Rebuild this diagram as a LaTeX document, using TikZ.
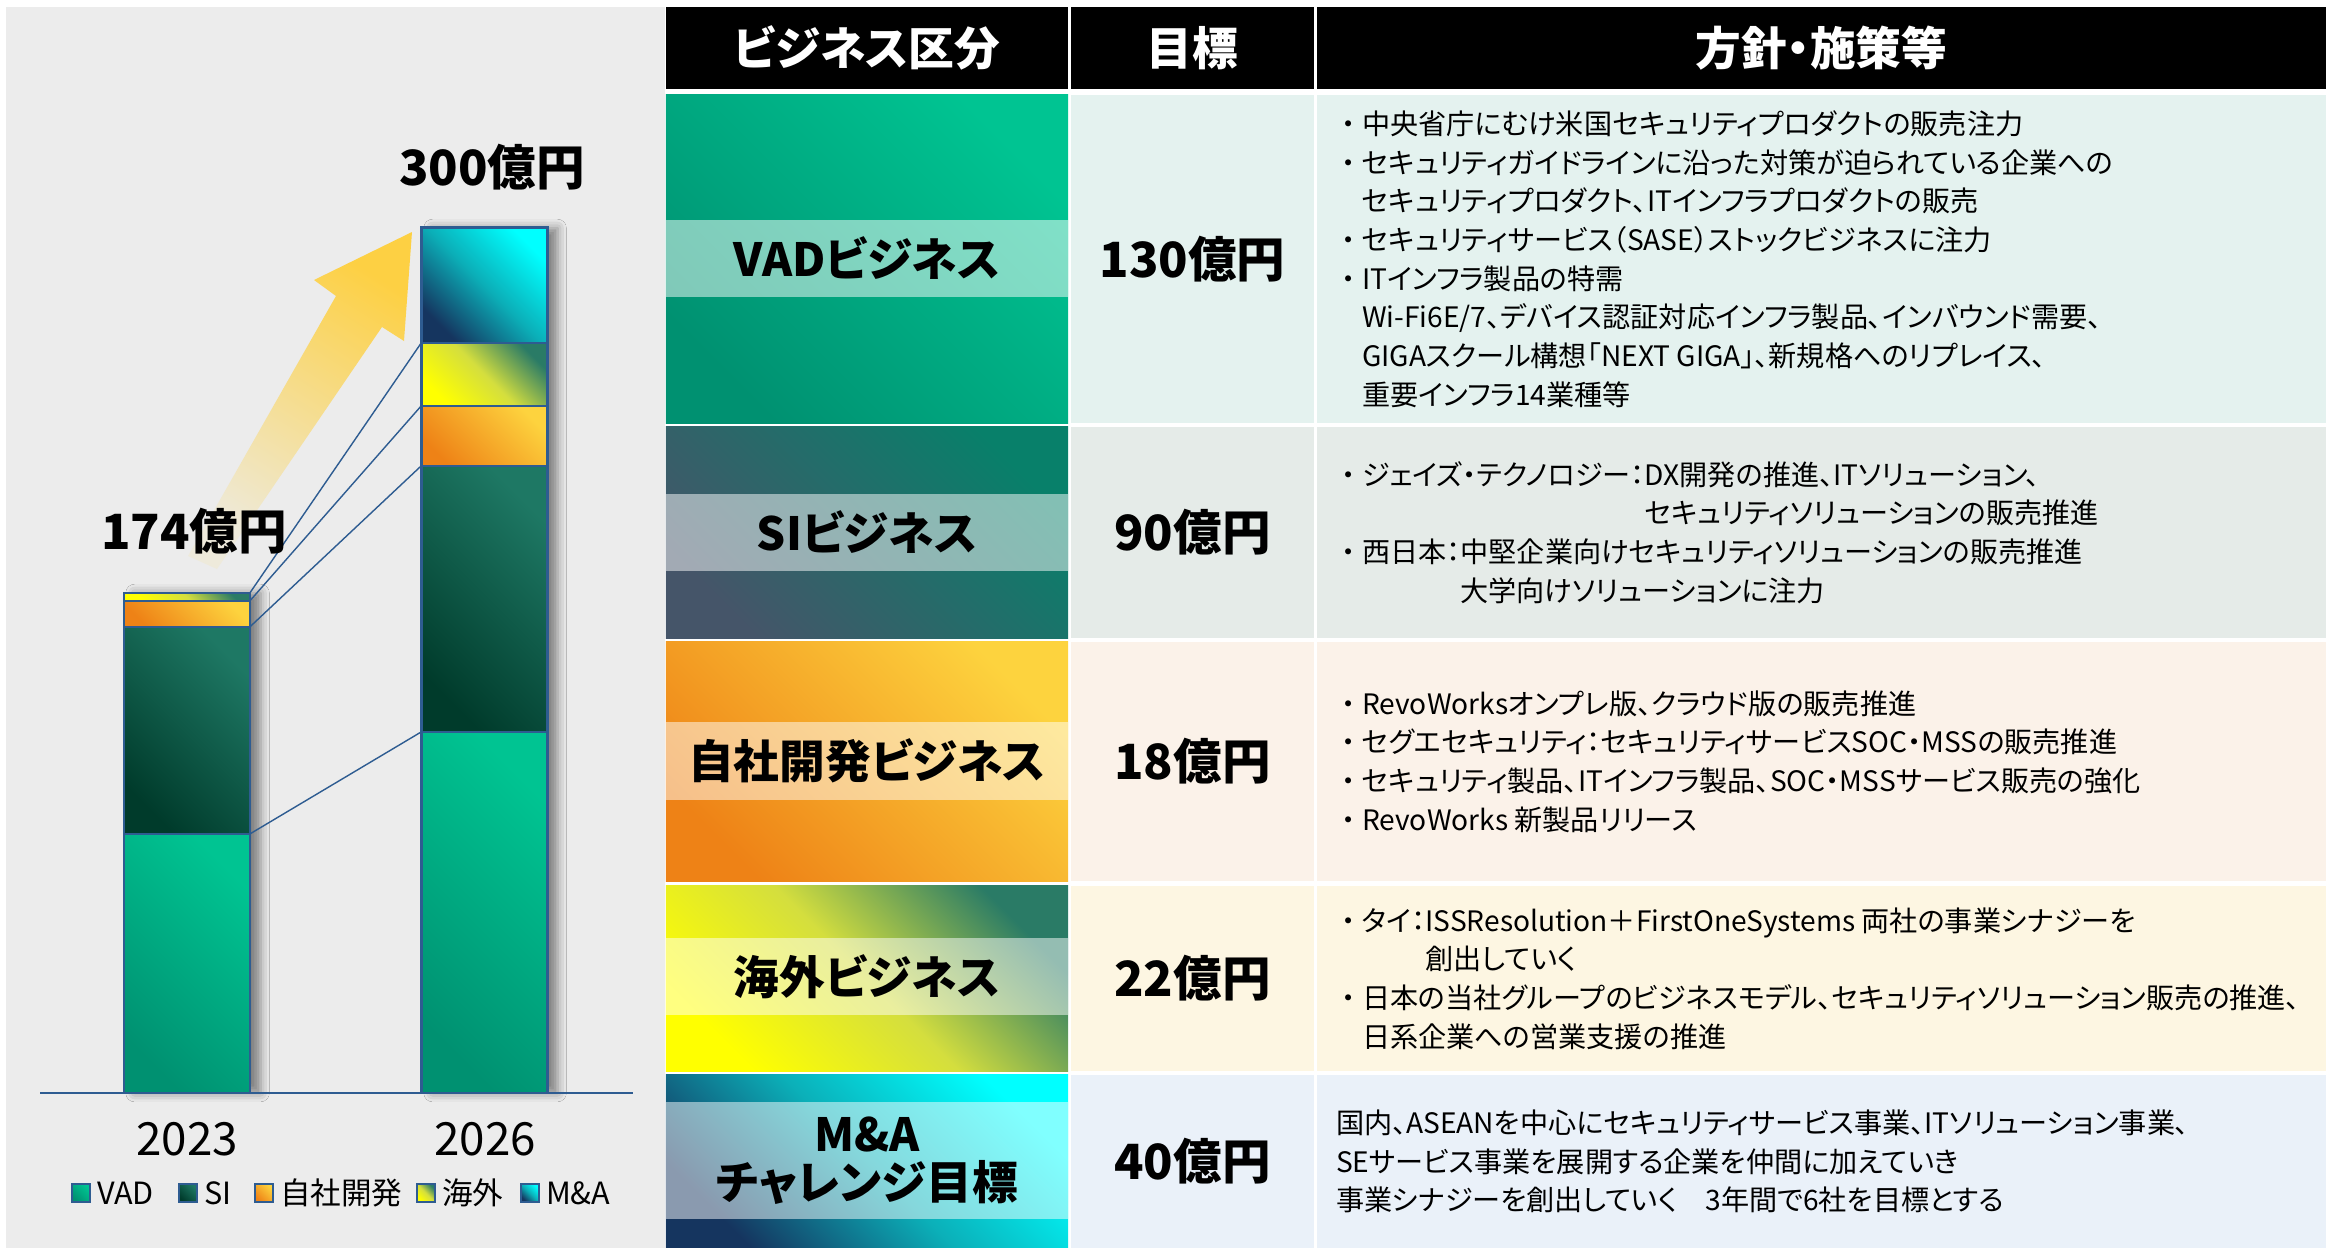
\documentclass[tikz,border=0pt]{standalone}
\usepackage{fontspec}
\setmainfont{Noto Sans CJK JP}[RawFeature={+palt}]
\usetikzlibrary{positioning,shadows.blur}

\definecolor{panel}{HTML}{ECECEC}
\definecolor{edge}{HTML}{2E5C91}
\definecolor{vadA}{HTML}{00C492}
\definecolor{vadB}{HTML}{009171}
\definecolor{siA}{HTML}{1E7864}
\definecolor{siB}{HTML}{003B2B}
\definecolor{jiA}{HTML}{FDD33E}
\definecolor{jiB}{HTML}{EE8216}
\definecolor{kaiA}{HTML}{2A7B66}
\definecolor{kaiM}{HTML}{D4DE3E}
\definecolor{kaiB}{HTML}{FFFF00}
\definecolor{maA}{HTML}{00FFFF}
\definecolor{maM}{HTML}{0BAFB8}
\definecolor{maB}{HTML}{15355F}
\definecolor{siTA}{HTML}{08806A}
\definecolor{siTB}{HTML}{455569}
\definecolor{arrA}{HTML}{EEEADB}
\definecolor{arrB}{HTML}{FDD043}
\definecolor{tintA}{HTML}{E4F2EF}
\definecolor{tintB}{HTML}{E5EBE8}
\definecolor{tintC}{HTML}{FBF2E9}
\definecolor{tintD}{HTML}{FDF6E2}
\definecolor{tintE}{HTML}{EAF1F9}

\newcommand\sz[2]{\fontsize{#1}{#2}\selectfont}
\newcommand\bul{\makebox[1em]{・}}
\newcommand\ind{\hspace*{1em}}

\begin{document}
\begin{tikzpicture}[x=0.01cm,y=-0.01cm,inner sep=0pt,outer sep=0pt]

  \tikzstyle{seg}=[draw=edge,line width=0.6pt,minimum width=1.26cm]
  \tikzstyle{key}=[draw=edge,line width=0.5pt,minimum size=0.18cm]
  \tikzstyle{link}=[draw=edge,line width=0.4pt]
  \tikzstyle{gVAD}=[bottom color=vadB,top color=vadA,shading angle=-45]
  \tikzstyle{gSI}=[bottom color=siB,top color=siA,shading angle=-45]
  \tikzstyle{gJI}=[bottom color=jiB,top color=jiA,shading angle=-45]
  \tikzstyle{gKAI}=[bottom color=kaiB,top color=kaiA,middle color=kaiM,shading angle=-45]
  \tikzstyle{gMA}=[bottom color=maB,top color=maA,middle color=maM,shading angle=-45]
  \tikzstyle{leg}=[font=\sz{8.7}{10},anchor=west]
  \tikzstyle{yr}=[font=\sz{13}{15}]
  \tikzstyle{tot}=[font=\bfseries\sz{13.8}{16}]
  \tikzstyle{hd}=[fill=black,text=white,font=\bfseries\sz{13}{15},minimum height=0.82cm]
  \tikzstyle{band}=[fill=white,fill opacity=.5,text opacity=1,font=\bfseries\sz{13}{13.7},align=center,minimum width=4.02cm]
  \tikzstyle{val}=[font=\bfseries\sz{13.8}{16},minimum width=2.43cm]
  \tikzstyle{plan}=[minimum width=10.09cm]
  \tikzstyle{body}=[anchor=west,align=left,font=\sz{8}{11}]

  \useasboundingbox (0,0) rectangle (2326,1248);
  \fill[panel] (6,7) rectangle (665,1248);

  \shade[bottom color=arrA,top color=arrB,shading angle=-32]
    (188,556) -- (336,296) -- (314,280) -- (412,232) -- (404,341) -- (382,327) -- (217,569) -- cycle;

  \path[fill=panel,blur shadow={shadow xshift=3pt,shadow yshift=0pt,shadow blur radius=2.5pt,shadow opacity=45}] (124,593) rectangle (250,1093);
  \path[fill=panel,blur shadow={shadow xshift=3pt,shadow yshift=0pt,shadow blur radius=2.5pt,shadow opacity=45}] (422,228) rectangle (547,1093);

  \node[seg,gVAD,minimum height=2.59cm,anchor=south] (V23) at (187,1093) {};
  \node[seg,gSI,minimum height=2.07cm,above=0pt of V23] (S23) {};
  \node[seg,gJI,minimum height=0.26cm,above=0pt of S23] (J23) {};
  \node[seg,gKAI,minimum height=0.08cm,above=0pt of J23] (K23) {};

  \node[seg,gVAD,minimum height=3.61cm,anchor=south] (V26) at (484.5,1093) {};
  \node[seg,gSI,minimum height=2.66cm,above=0pt of V26] (S26) {};
  \node[seg,gJI,minimum height=0.60cm,above=0pt of S26] (J26) {};
  \node[seg,gKAI,minimum height=0.63cm,above=0pt of J26] (K26) {};
  \node[seg,gMA,minimum height=1.15cm,above=0pt of K26] (M26) {};

  \draw[link] (V23.north east) -- (V26.north west);
  \draw[link] (S23.north east) -- (S26.north west);
  \draw[link] (J23.north east) -- (J26.north west);
  \draw[link] (K23.north east) -- (K26.north west);

  \draw[edge,line width=0.6pt] (40,1093) -- (633,1093);

  \node[tot] (T23) at (194,531) {174億円};
  \node[tot] (T26) at (492,167) {300億円};
  \node[yr] (Y23) at (187,1139) {2023};
  \node[yr] (Y26) at (485,1139) {2026};

  \node[key,gVAD] (KV) at (81,1193) {};  \node[leg,right=0.07cm of KV] (NV) {VAD};
  \node[key,gSI] (KS) at (188,1193) {};  \node[leg,right=0.07cm of KS] (NS) {SI};
  \node[key,gJI] (KJ) at (264,1193) {};  \node[leg,right=0.07cm of KJ] (NJ) {自社開発};
  \node[key,gKAI] (KK) at (426,1193) {}; \node[leg,right=0.07cm of KK] (NK) {海外};
  \node[key,gMA] (KM) at (530,1193) {};  \node[leg,right=0.07cm of KM] (NM) {M\&A};

  \node[hd,minimum width=4.02cm] (H1) at (867,48) {ビジネス区分};
  \node[hd,minimum width=2.43cm] (H2) at (1192.5,48) {目標};
  \node[hd,minimum width=10.09cm] (H3) at (1821.5,48) {方針・施策等};

  \node[gVAD,minimum width=4.02cm,minimum height=3.28cm] (C1) at (867,259) {};
  \node[band,minimum height=0.77cm] (B1) at (867,258.5) {VADビジネス};
  \node[val,fill=tintA,minimum height=3.28cm] (G1) at (1192.5,259) {130億円};
  \node[plan,fill=tintA,minimum height=3.28cm] (P1) at (1821.5,259) {};
  \node[body] (X1) at (1334,259) {\bul 中央省庁にむけ米国セキュリティプロダクトの販売注力\\
    \bul セキュリティガイドラインに沿った対策が迫られている企業への\\
    \ind セキュリティプロダクト、ITインフラプロダクトの販売\\
    \bul セキュリティサービス（SASE）ストックビジネスに注力\\
    \bul ITインフラ製品の特需\\
    \ind Wi-Fi6E/7、デバイス認証対応インフラ製品、インバウンド需要、\\
    \ind GIGAスクール構想「NEXT GIGA」、新規格へのリプレイス、\\
    \ind 重要インフラ14業種等};

  \node[bottom color=siTB,top color=siTA,shading angle=-45,minimum width=4.02cm,minimum height=2.11cm] (C2) at (867,532.5) {};
  \node[band,minimum height=0.77cm] (B2) at (867,532.5) {SIビジネス};
  \node[val,fill=tintB,minimum height=2.11cm] (G2) at (1192.5,532.5) {90億円};
  \node[plan,fill=tintB,minimum height=2.11cm] (P2) at (1821.5,532.5) {};
  \node[body] (X2) at (1334,532.5) {\bul ジェイズ・テクノロジー：DX開発の推進、ITソリューション、\\
    \ind\phantom{ジェイズ・テクノロジー：}セキュリティソリューションの販売推進\\
    \bul 西日本：中堅企業向けセキュリティソリューションの販売推進\\
    \ind\phantom{西日本：}大学向けソリューションに注力};

  \node[gJI,minimum width=4.02cm,minimum height=2.39cm] (C3) at (867,761.5) {};
  \node[band,minimum height=0.78cm] (B3) at (867,761) {自社開発ビジネス};
  \node[val,fill=tintC,minimum height=2.39cm] (G3) at (1192.5,761.5) {18億円};
  \node[plan,fill=tintC,minimum height=2.39cm] (P3) at (1821.5,761.5) {};
  \node[body] (X3) at (1334,761.5) {\bul RevoWorksオンプレ版、クラウド版の販売推進\\
    \bul セグエセキュリティ：セキュリティサービスSOC・MSSの販売推進\\
    \bul セキュリティ製品、ITインフラ製品、SOC・MSSサービス販売の強化\\
    \bul RevoWorks 新製品リリース};

  \node[bottom color=kaiB,top color=kaiA,middle color=kaiM,shading angle=-45,minimum width=4.02cm,minimum height=1.85cm] (C4) at (867,978.5) {};
  \node[band,minimum height=0.77cm] (B4) at (867,976.5) {海外ビジネス};
  \node[val,fill=tintD,minimum height=1.85cm] (G4) at (1192.5,978.5) {22億円};
  \node[plan,fill=tintD,minimum height=1.85cm] (P4) at (1821.5,978.5) {};
  \node[body] (X4) at (1334,978.5) {\bul タイ：ISSResolution＋FirstOneSystems 両社の事業シナジーを\\
    \ind\phantom{タイ：}創出していく\\
    \bul 日本の当社グループのビジネスモデル、セキュリティソリューション販売の推進、\\
    \ind 日系企業への営業支援の推進};

  \node[gMA,minimum width=4.02cm,minimum height=1.73cm] (C5) at (867,1161.5) {};
  \node[band,minimum height=1.17cm] (B5) at (867,1160.5) {M\&A\\チャレンジ目標};
  \node[val,fill=tintE,minimum height=1.73cm] (G5) at (1192.5,1161.5) {40億円};
  \node[plan,fill=tintE,minimum height=1.73cm] (P5) at (1821.5,1161.5) {};
  \node[body] (X5) at (1336,1161.5) {国内、ASEANを中心にセキュリティサービス事業、ITソリューション事業、\\
    SEサービス事業を展開する企業を仲間に加えていき\\
    事業シナジーを創出していく　3年間で6社を目標とする};

\end{tikzpicture}
\end{document}
